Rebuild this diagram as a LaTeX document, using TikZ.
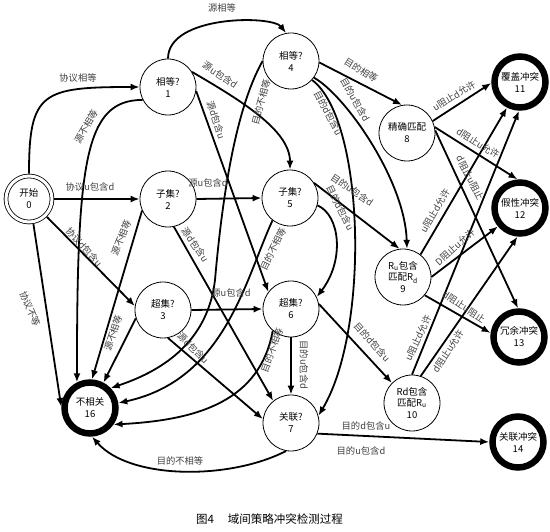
\documentclass[tikz,border=0pt]{standalone}
\usepackage{fontspec}
\setmainfont{Noto Sans CJK SC}
\usetikzlibrary{arrows.meta}
\begin{document}
\begin{tikzpicture}[x=1pt,y=-1pt,
  st/.style={circle, draw, line width=0.8pt, minimum size=56pt, inner sep=0pt, align=center, font=\fontsize{9.5}{12}\selectfont},
  term/.style={circle, draw, line width=6.5pt, minimum size=51pt, inner sep=0pt, align=center, font=\fontsize{9.5}{12}\selectfont},
  startnode/.style={circle, draw, double, line width=0.8pt, double distance=3pt, outer sep=2.3pt, minimum size=46pt, inner sep=0pt, align=center, font=\fontsize{9.5}{12}\selectfont},
  ed/.style={line width=1.8pt, -{Latex[length=9pt,width=7pt]}},
  lb/.style={font=\fontsize{9.3}{10}\selectfont, text=black!75, inner sep=0pt},
]
\useasboundingbox (0,0) rectangle (550,532);
% states
\node[startnode] (n0) at (29,199) {开始\\0};
\node[st] (n1) at (168,87) {相等?\\1};
\node[st] (n2) at (168,199) {子集?\\2};
\node[st] (n3) at (163,310) {超集?\\3};
\node[st] (n4) at (291,61) {相等?\\4};
\node[st] (n5) at (290,198) {子集?\\5};
\node[st] (n6) at (291,309) {超集?\\6};
\node[st] (n7) at (291,423) {关联?\\7};
\node[st] (n8) at (407,133) {精确匹配\\8};
\node[st, font=\fontsize{9.5}{11.5}\selectfont] (n9) at (403,277) {R\textsubscript{u}包含\\匹配R\textsubscript{d}\\9};
\node[st, font=\fontsize{9.5}{11.5}\selectfont] (n10) at (412,403) {Rd包含\\匹配R\textsubscript{u}\\10};
\node[term] (n11) at (520,82) {覆盖冲突\\11};
\node[term] (n12) at (520,208) {假性冲突\\12};
\node[term] (n13) at (519,337) {冗余冲突\\13};
\node[term] (n14) at (518,442) {关联冲突\\14};
\node[term] (n16) at (90,408) {不相关\\16};
% edges
\draw[ed] (n0.north) .. controls (29,92) and (42,87) .. (n1.west);
\draw[ed] (n0.east) -- (n2.west);
\draw[ed] (n0.-45) -- (n3.172);
\draw[ed] (n0.-80) -- (n16.178);
\draw[ed] (n1.north) .. controls (168,15) and (272,15) .. (n4.100);
\draw[ed] (n1.207) .. controls (85,100) and (77,160) .. (n16.117);
\draw[ed] (n1.32) .. controls (240,100) and (290,130) .. (n5.north);
\draw[ed] (n1.-8) -- (n6.143);
\draw[ed] (n2.east) -- (n5.west);
\draw[ed] (n2.204) -- (n16.86);
\draw[ed] (n2.-78) -- (n7.129);
\draw[ed] (n3.east) -- (n6.west);
\draw[ed] (n3.197) -- (n16.62);
\draw[ed] (n3.-80) -- (n7.172);
\draw[ed] (n4.-3) -- (n8.100);
\draw[ed] (n4.-36) .. controls (345,95) and (405,180) .. (n9.82);
\draw[ed] (n4.-42) .. controls (365,120) and (370,330) .. (n7.15);
\draw[ed] (n4.180) .. controls (235,110) and (222,200) .. (215,280) .. controls (208,340) and (165,370) .. (n16.44);
\draw[ed] (n5.32) -- (n9.97);
\draw[ed] (n5.-15) .. controls (340,215) and (345,260) .. (n6.25);
\draw[ed] (n5.232) .. controls (245,280) and (225,380) .. (n16.10);
\draw[ed] (n6.10) -- (n10.135);
\draw[ed] (n6.south) -- (n7.north);
\draw[ed] (n6.230) .. controls (260,400) and (200,420) .. (n16.-35);
\draw[ed] (n7.-22) -- (n14.180);
\draw[ed] (n7.-100) .. controls (230,480) and (130,480) .. (n16.-86);
\draw[ed] (n8.25) -- (n11.182);
\draw[ed] (n8.12) -- (n12.95);
\draw[ed] (n8.5) -- (n13.92);
\draw[ed] (n9.52) -- (n11.243);
\draw[ed] (n9.0) -- (n12.220);
\draw[ed] (n9.-40) -- (n13.172);
\draw[ed] (n10.90) -- (n11.-92);
\draw[ed] (n10.72) -- (n12.-95);
% labels
\node[lb] (l01) at (78,78) {协议相等};
\node[lb] (l02) at (90,187) {协议u包含d};
\node[lb, rotate=-48] (l03) at (84,247) {协议d包含u};
\node[lb, rotate=-67] (l04) at (30,309) {协议不等};
\node[lb] (l14) at (222,8) {源相等};
\node[lb, rotate=60] (l116) at (86,127) {源不相等};
\node[lb, rotate=-34] (l15) at (220,75) {源u包含d};
\node[lb, rotate=-72] (l16) at (216,120) {源d包含u};
\node[lb] (l25) at (208,183) {源u包含d};
\node[lb, rotate=68] (l216) at (121,238) {源不相等};
\node[lb, rotate=-55] (l27) at (195,245) {源d包含u};
\node[lb] (l36) at (231,293) {源u包含d};
\node[lb, rotate=72] (l316) at (113,333) {源不相等};
\node[lb, rotate=-45] (l37) at (193,348) {源d包含u};
\node[lb, rotate=-32] (l48) at (361,70) {目的相等};
\node[lb, rotate=-60] (l49) at (355,100) {目的u包含d};
\node[lb, rotate=-62] (l47) at (328,113) {目的d包含u};
\node[lb, rotate=75] (l416) at (261,102) {目的不相等};
\node[lb, rotate=-34] (l59) at (352,190) {目的u包含d};
\node[lb, rotate=-63] (l56) at (340,208) {目的d包含u};
\node[lb, rotate=64] (l516) at (273,249) {目的不相等};
\node[lb, rotate=-48] (l610) at (372,342) {目的d包含u};
\node[lb, rotate=-90] (l67) at (304,365) {目的u包含d};
\node[lb, rotate=70] (l616) at (272,350) {目的不相等};
\node[lb] (l714a) at (366,426) {目的d包含u};
\node[lb] (l714b) at (361,451) {目的u包含d};
\node[lb] (l716) at (180,461) {目的不相等};
\node[lb, rotate=32] (l811) at (454,96) {u阻止d允许};
\node[lb, rotate=-32] (l812) at (478,143) {d阻止u允许};
\node[lb, rotate=-63] (l813) at (470,178) {d阻止u阻止};
\node[lb, rotate=60] (l911) at (435,211) {u阻止d允许};
\node[lb, rotate=42] (l912) at (455,247) {D阻止u允许};
\node[lb, rotate=-33] (l913) at (464,307) {d阻止u阻止};
\node[lb, rotate=65] (l1011) at (418,338) {u阻止d允许};
\node[lb, rotate=57] (l1012) at (448,351) {d阻止u允许};
% caption
\node[font=\fontsize{11.5}{12}\selectfont, anchor=west, inner sep=0pt] (cap) at (196,519) {图4\hspace{1.2em}域间策略冲突检测过程};
\end{tikzpicture}
\end{document}
